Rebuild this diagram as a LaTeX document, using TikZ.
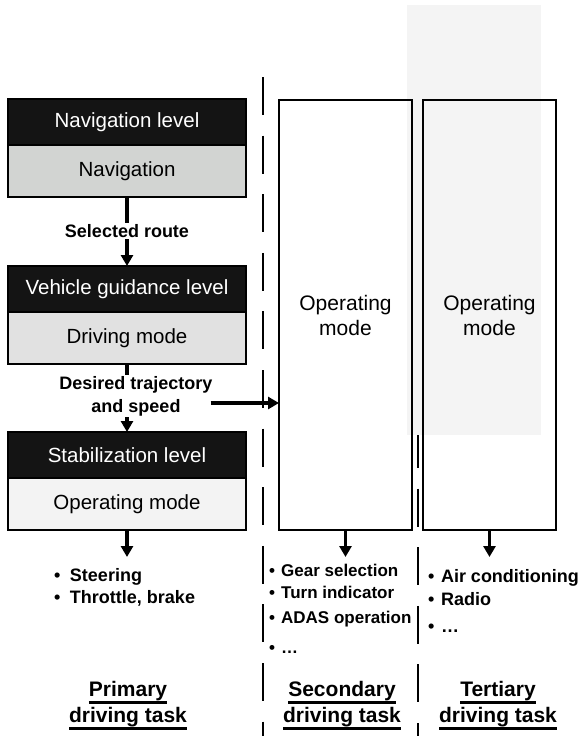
\documentclass[tikz,border=0pt]{standalone}
\usepackage{fontspec}
\setmainfont{Liberation Sans}
\usetikzlibrary{positioning,arrows.meta}

\definecolor{navgray}{RGB}{210,212,210}
\definecolor{guidgray}{RGB}{225,225,225}
\definecolor{stabgray}{RGB}{243,243,243}
\definecolor{bgshade}{RGB}{244,244,244}
\definecolor{headblack}{RGB}{20,20,20}

\newcommand{\taskul}[1]{\vtop{\hbox{#1}\kern0.2pt\hrule height 2.6pt}}

\begin{document}
\begin{tikzpicture}[
  x = 1pt, y = -1pt,
  node distance = 0pt and 0pt,
  base/.style = {
    rectangle,
    draw,
    line width=1.3pt,
    fill=#1,
    outer sep=0pt,
    inner sep=0pt,
    minimum width=238pt,
    font=\fontsize{20.5}{24}\selectfont
  },
  head/.style = {base=headblack, text=white, minimum height=46pt},
  mode/.style = {base=#1, minimum height=52pt},
  column/.style = {
    rectangle,
    draw,
    line width=1.3pt,
    outer sep=0pt,
    minimum width=133pt,
    minimum height=430pt,
    align=center,
    font=\fontsize{21}{25}\selectfont
  },
  label/.style = {fill=white, inner sep=1pt, align=center,
    font=\bfseries\fontsize{18}{23}\selectfont},
  items/.style = {align=left, inner sep=0pt,
    font=\bfseries\fontsize{18}{22.5}\selectfont},
  task/.style = {align=center, inner sep=0pt,
    font=\bfseries\fontsize{21}{26}\selectfont},
  arr/.style = {line width=3.2pt, -{Triangle[length=11pt,width=12pt]}},
  divider/.style = {line width=2.8pt, dash pattern=on 38pt off 20.6pt},
  ]
  \useasboundingbox (0,0) rectangle (581,736);
  % shaded area behind the tertiary column
  \fill[bgshade] (407,5) rectangle (541,435);
  % column dividers
  \draw[divider] (263,77) -- (263,736);
  \draw[divider, dash phase=5pt] (418,435) -- (418,736);

  % primary driving task
  \node[head, anchor=north west] (navT) at (8,99) {Navigation level};
  \node[mode=navgray, below=of navT] (navM) {Navigation};
  \node[head, anchor=north west] (guidT) at (8,266) {Vehicle guidance level};
  \node[mode=guidgray, below=of guidT] (guidM) {Driving mode};
  \node[head, anchor=north west] (stabT) at (8,432) {Stabilization level};
  \node[mode=stabgray, below=of stabT] (stabM) {Operating mode};

  % secondary and tertiary driving task
  \node[column, anchor=north west] (second) at (279,100) {Operating\\mode};
  \node[column, anchor=north west] (third) at (423,100) {Operating\\mode};

  \draw[arr] (navM) -- (guidT);
  \node[label] (route) at (127,231) {Selected route};
  \draw[arr] (guidM) -- (stabT);
  \node[label] (traj) at (136,396) {Desired trajectory\\and speed};
  \coordinate (trajOut) at ([xshift=-3pt, yshift=-7pt]traj.east);
  \draw[arr] (trajOut) -- (trajOut -| second.west);

  \coordinate[below=27pt of stabM] (primEnd);
  \coordinate[below=27pt of second] (secEnd);
  \coordinate[below=27pt of third] (terEnd);
  \draw[arr] (stabM) -- (primEnd);
  \draw[arr] (second) -- (secEnd);
  \draw[arr] (third) -- (terEnd);

  \node[items, anchor=north west] (primItems) at (54,568)
    {\textbullet\hspace{9.5pt}Steering\\\textbullet\hspace{9.5pt}Throttle, brake};
  \node[items, anchor=north west, font=\bfseries\fontsize{17}{22.5}\selectfont]
    (secItems) at (269,563.5)
    {\textbullet\hspace{6pt}Gear selection\\\textbullet\hspace{6pt}Turn indicator\\[2.5pt]%
     \textbullet\hspace{6pt}ADAS operation\\[7.5pt]\textbullet\hspace{6pt}\dots};
  \node[items, anchor=north west] (terItems) at (428,569.5)
    {\textbullet\hspace{6.5pt}Air conditioning\\\textbullet\hspace{6.5pt}Radio\\[5pt]%
     \textbullet\hspace{6.5pt}\dots};

  \node[task, anchor=north] (primTask) at (128,681)
    {\taskul{Primary}\\\taskul{driving task}};
  \node[task, anchor=north] (secTask) at (342,681)
    {\taskul{Secondary}\\\taskul{driving task}};
  \node[task, anchor=north] (terTask) at (498,681)
    {\taskul{Tertiary}\\\taskul{driving task}};
\end{tikzpicture}
\end{document}
